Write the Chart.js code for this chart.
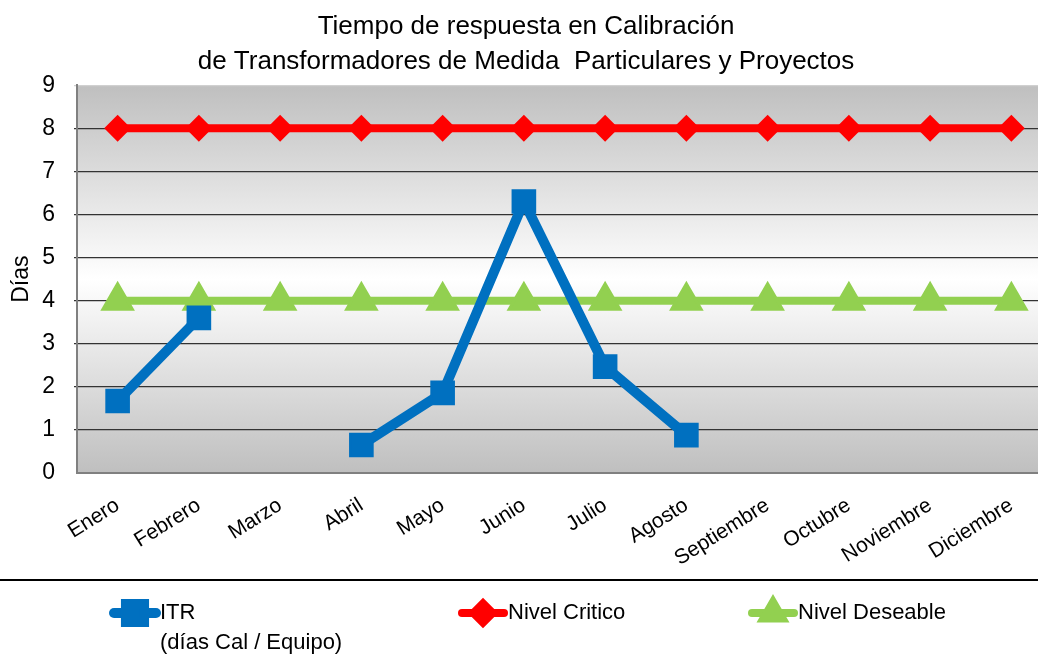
<!DOCTYPE html>
<html>
<head>
<meta charset="utf-8">
<script src="https://cdn.jsdelivr.net/npm/chart.js@4.4.1/dist/chart.umd.min.js"></script>
<style>
  html, body { margin: 0; padding: 0; background: #fff; overflow: hidden; }
  #wrap { width: 1052px; height: 657px; }
</style>
</head>
<body>
<div id="wrap"><canvas id="tiempoChart" width="1052" height="657"></canvas></div>
<script>
// data
const months = ['Enero', 'Febrero', 'Marzo', 'Abril', 'Mayo', 'Junio', 'Julio',
  'Agosto', 'Septiembre', 'Octubre', 'Noviembre', 'Diciembre'];
const itrValues = [1.67, 3.6, null, 0.65, 1.86, 6.3, 2.47, 0.88, null, null, null, null];
const nivelCritico = [8, 8, 8, 8, 8, 8, 8, 8, 8, 8, 8, 8];
const nivelDeseable = [4, 4, 4, 4, 4, 4, 4, 4, 4, 4, 4, 4];
const yMin = 0;
const yMax = 9;

const FONT = '"Liberation Sans", Arial, sans-serif';
Chart.defaults.font.family = FONT;
Chart.defaults.color = '#000';

// gray -> white -> gray fill behind the plot
const plotBackground = {
  id: 'plotBackground',
  beforeDraw(chart) {
    const { ctx, chartArea: a } = chart;
    const g = ctx.createLinearGradient(0, a.top, 0, a.bottom);
    g.addColorStop(0, '#bfbfbf');
    g.addColorStop(0.5, '#ffffff');
    g.addColorStop(1, '#bfbfbf');
    ctx.save();
    ctx.fillStyle = g;
    ctx.fillRect(a.left, a.top, a.right - a.left, a.bottom - a.top);
    ctx.restore();
  }
};

// legend under a rule, line + marker icons
const bottomLegend = {
  id: 'bottomLegend',
  afterDraw(chart) {
    const { ctx, width } = chart;
    const y = chart.chartArea.bottom + 140;
    const xs = [110, 458, 748];
    ctx.save();
    ctx.strokeStyle = '#000';
    ctx.lineWidth = 2;
    ctx.beginPath();
    ctx.moveTo(0, chart.chartArea.bottom + 107);
    ctx.lineTo(width, chart.chartArea.bottom + 107);
    ctx.stroke();

    chart.data.datasets.forEach((ds, i) => {
      const x0 = xs[i];
      ctx.strokeStyle = ds.borderColor;
      ctx.fillStyle = ds.borderColor;
      ctx.lineWidth = ds.borderWidth;
      ctx.lineCap = 'round';
      ctx.beginPath();
      ctx.moveTo(x0 + 4, y);
      ctx.lineTo(x0 + 46, y);
      ctx.stroke();
      Chart.helpers.drawPoint(ctx, {
        pointStyle: ds.pointStyle,
        radius: ds.pointRadius * (ds.pointStyle === 'triangle' ? 0.65 : 0.8),
        rotation: 0,
        borderWidth: ds.pointBorderWidth
      }, x0 + 25, y);
      ctx.fillStyle = '#000';
      ctx.font = '22px ' + FONT;
      ctx.textBaseline = 'middle';
      ctx.textAlign = 'left';
      ds.label.split('\n').forEach((line, k) => {
        ctx.fillText(line, x0 + 50, y + k * 30);
      });
    });
    ctx.restore();
  }
};

new Chart(document.getElementById('tiempoChart'), {
  type: 'line',
  data: {
    labels: months,
    datasets: [{
      label: 'ITR\n(días Cal / Equipo)',
      data: itrValues,
      borderColor: '#0070c0',
      backgroundColor: '#0070c0',
      borderWidth: 10,
      pointStyle: 'rect',
      pointRadius: 16,
      pointBorderWidth: 2,
      pointBackgroundColor: '#0070c0',
      pointBorderColor: '#0070c0',
      spanGaps: false
    }, {
      label: 'Nivel Critico',
      data: nivelCritico,
      borderColor: '#ff0000',
      backgroundColor: '#ff0000',
      borderWidth: 8,
      pointStyle: 'rectRot',
      pointRadius: 12,
      pointBorderWidth: 2,
      pointBackgroundColor: '#ff0000',
      pointBorderColor: '#ff0000'
    }, {
      label: 'Nivel Deseable',
      data: nivelDeseable,
      borderColor: '#92d050',
      backgroundColor: '#92d050',
      borderWidth: 8,
      pointStyle: 'triangle',
      pointRadius: 17,
      pointBorderWidth: 3,
      pointBackgroundColor: '#92d050',
      pointBorderColor: '#92d050'
    }]
  },
  options: {
    responsive: false,
    animation: false,
    devicePixelRatio: 1,
    layout: { padding: 0, autoPadding: false },
    elements: {
      line: { tension: 0, borderJoinStyle: 'round' },
      point: { hoverRadius: 16 }
    },
    plugins: {
      legend: { display: false },
      tooltip: { enabled: false },
      title: {
        display: true,
        text: ['Tiempo de respuesta en Calibración',
          'de Transformadores de Medida  Particulares y Proyectos'],
        color: '#000',
        font: { size: 26, weight: 'normal', lineHeight: 1.35 },
        padding: { top: 9, bottom: 6 }
      }
    },
    scales: {
      x: {
        offset: true,
        afterFit: (scale) => {
          scale.height = 184;
          scale.paddingLeft = 0;
          scale.paddingRight = 0;
        },
        grid: { display: false, tickLength: 4 },
        border: { color: '#808080', width: 2 },
        ticks: {
          color: '#000',
          font: { size: 21 },
          minRotation: 32,
          maxRotation: 32,
          padding: 16,
          autoSkip: false
        }
      },
      y: {
        min: yMin,
        max: yMax,
        afterFit: (scale) => { scale.width = 77; },
        border: { color: '#808080', width: 2 },
        grid: {
          tickLength: 3,
          lineWidth: 1.3,
          color: (c) => (c.tick && (c.tick.value === yMax) ? '#d0d0d0' :
            (c.tick && c.tick.value === yMin ? 'rgba(0,0,0,0)' : '#333'))
        },
        ticks: { stepSize: 1, color: '#000', font: { size: 23 }, padding: 19 },
        title: {
          display: true,
          text: 'Días',
          color: '#000',
          font: { size: 23 },
          padding: { top: 8, bottom: 0 }
        }
      }
    }
  },
  plugins: [plotBackground, bottomLegend]
});
</script>
</body>
</html>
